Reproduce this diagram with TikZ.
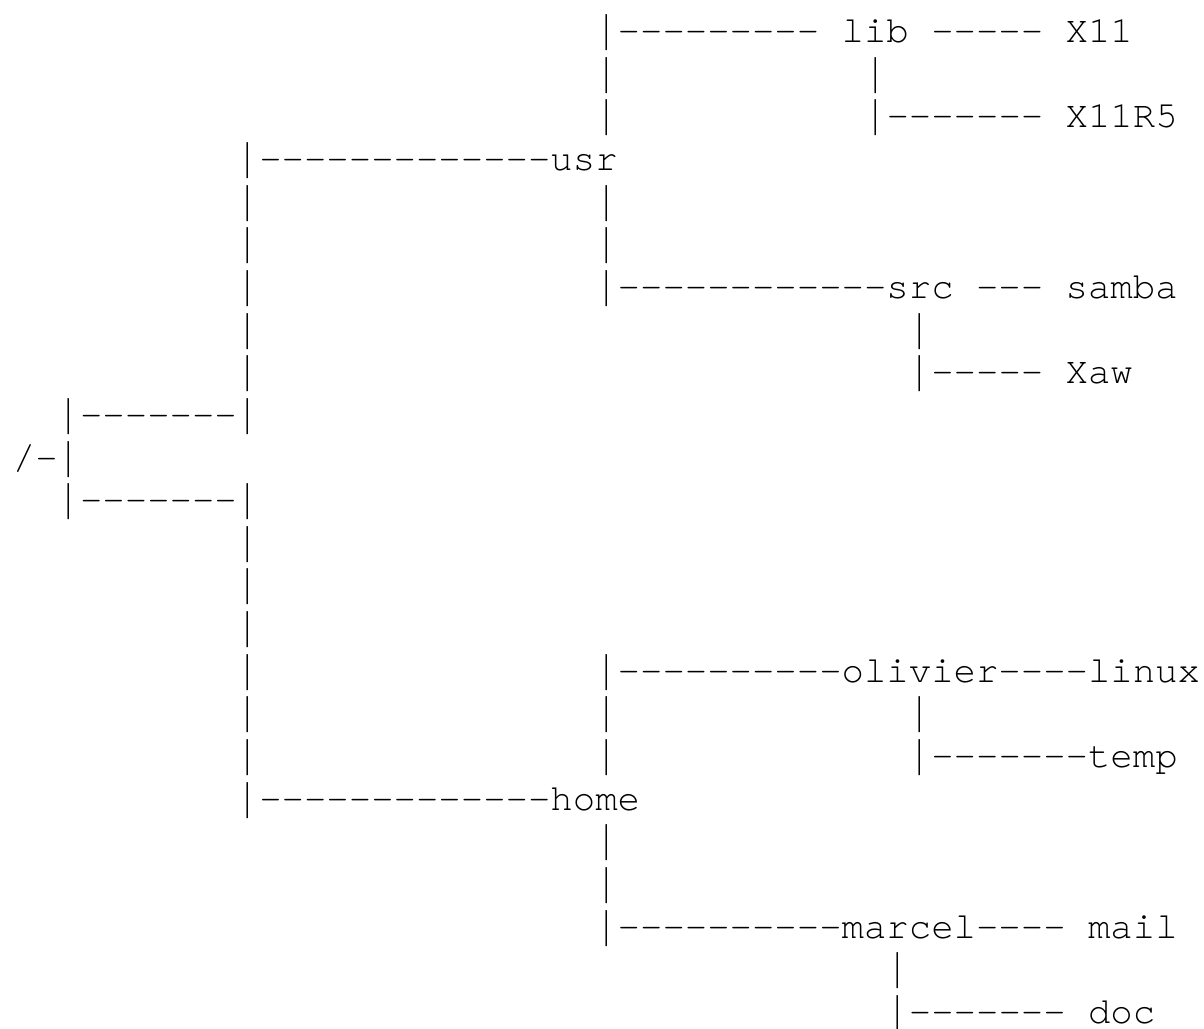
\documentclass[tikz,border=0pt]{standalone}
\usepackage{graphicx}
\usepackage{fontspec}
\setmonofont{TeX Gyre Cursor}

% a bar that fills most of the line, as the terminal draws it
\newcommand\pipe{\raisebox{-0.214em}{\resizebox{\width}{0.964em}{\raisebox{\depth}{|}}}}

\begin{document}
\begin{tikzpicture}[
  x=22.4pt, y=-42.65pt,
  tt/.style = {font=\ttfamily\fontsize{37.33}{42.65}\selectfont,
               anchor=base west, inner sep=0pt, outer sep=0pt},
]
\useasboundingbox (-12.9pt,0pt) rectangle (1191.1pt,-1028pt);

%% root and its two branches
\node[tt] (rootup)   at (2,10) {\pipe-------\pipe};
\node[tt] (root)     at (0,11) {/-\pipe};
\node[tt] (rootdown) at (2,12) {\pipe-------\pipe};

%% bare vertical bars (column/row)
\foreach \c/\r in {10/5,10/6,10/7,10/8,10/9,10/13,10/14,10/15,10/16,10/17,10/18,
                   26/2,26/3,26/5,26/6,26/17,26/18,26/20,26/21,
                   38/2,40/8,40/17,39/23}
  { \node[tt] (bar-\c-\r) at (\c,\r) {\pipe}; }

%% /usr
\node[tt] (usr) at (10,4)  {\pipe-------------usr};
\node[tt] (lib) at (26,1)  {\pipe--------- lib ----- X11};
\node[tt] (x11r5) at (38,3) {\pipe------- X11R5};
\node[tt] (src) at (26,7)  {\pipe------------src --- samba};
\node[tt] (xaw) at (40,9)  {\pipe----- Xaw};

%% /home
\node[tt] (home) at (10,19)    {\pipe-------------home};
\node[tt] (olivier) at (26,16) {\pipe----------olivier----linux};
\node[tt] (temp) at (40,18)    {\pipe-------temp};
\node[tt] (marcel) at (26,22)  {\pipe----------marcel---- mail};
\node[tt] (doc) at (39,24)     {\pipe------- doc};

\end{tikzpicture}
\end{document}
